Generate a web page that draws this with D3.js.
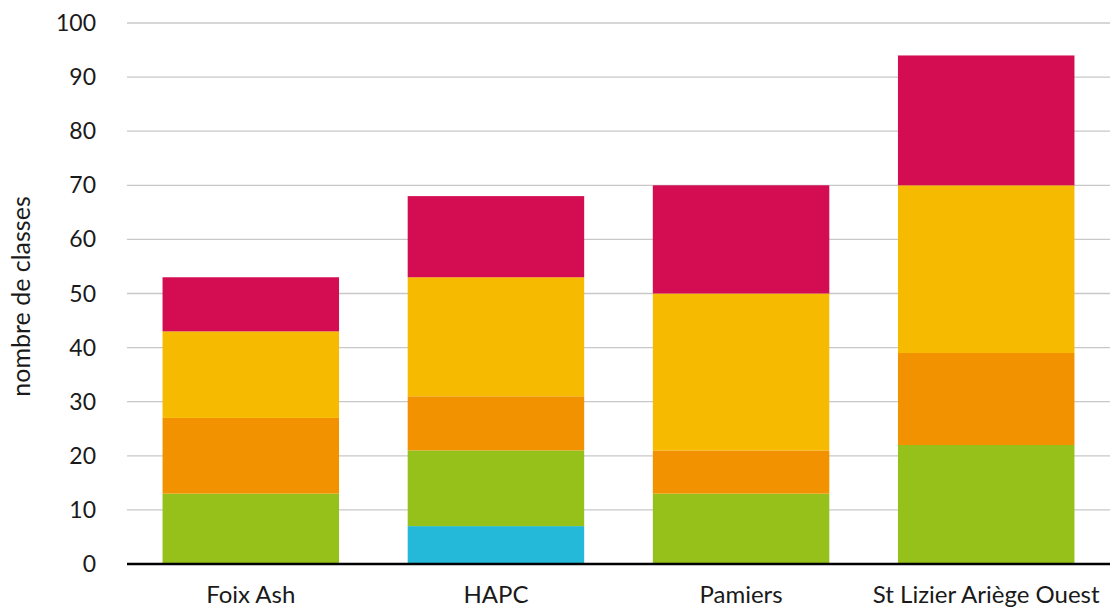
<!DOCTYPE html>
<html>
<head>
<meta charset="utf-8">
<script src="https://cdn.jsdelivr.net/npm/d3@7"></script>
<style>
  body { margin: 0; background: #fff; }
  text { font-family: "Source Sans Pro", Lato, "Open Sans", sans-serif; fill: #1a1a1a; }
</style>
</head>
<body>
<div id="chart"></div>
<script>
const categories = ["Foix Ash", "HAPC", "Pamiers", "St Lizier Ariège Ouest"];
const seriesKeys = ["s1", "s2", "s3", "s4", "s5"];
const s1 = [0, 7, 0, 0];
const s2 = [13, 14, 13, 22];
const s3 = [14, 10, 8, 17];
const s4 = [16, 22, 29, 31];
const s5 = [10, 15, 20, 24];
const colors = ["#25b9d9", "#95c11a", "#f39200", "#f6ba00", "#d40c52"];
const yTicks = [0, 10, 20, 30, 40, 50, 60, 70, 80, 90, 100];

const rows = categories.map((c, i) => ({
  cat: c, s1: s1[i], s2: s2[i], s3: s3[i], s4: s4[i], s5: s5[i]
}));

const W = 1110, H = 609;
const margin = { top: 23, right: 0, bottom: 45, left: 127 };
const width = W - margin.left - margin.right,
      height = H - margin.top - margin.bottom;

const svg = d3.select("#chart").append("svg")
  .attr("width", W).attr("height", H);
const g = svg.append("g")
  .attr("transform", "translate(" + margin.left + "," + margin.top + ")");

const x = d3.scaleBand().domain(categories).range([0, width]).paddingInner(0.28).paddingOuter(0.145);
const y = d3.scaleLinear().domain([0, 100]).range([height, 0]);

// gridlines
g.selectAll("line.grid").data(yTicks.slice(1)).enter().append("line")
  .attr("class", "grid")
  .attr("x1", 0).attr("x2", width)
  .attr("y1", d => y(d)).attr("y2", d => y(d))
  .style("stroke", "#c8c8c8").style("stroke-width", 1.3);

// y labels
g.selectAll("text.ytick").data(yTicks).enter().append("text")
  .attr("class", "ytick")
  .attr("x", -31).attr("y", d => y(d))
  .attr("dy", "0.35em")
  .attr("text-anchor", "end")
  .style("font-size", "23px")
  .text(d => d);

const stack = d3.stack().keys(seriesKeys)(rows);

g.selectAll("g.layer").data(stack).enter().append("g")
  .attr("class", "layer")
  .style("fill", (d, i) => colors[i])
  .selectAll("rect").data(d => d).enter().append("rect")
  .attr("x", d => x(d.data.cat))
  .attr("width", x.bandwidth())
  .attr("y", d => y(d[1]))
  .attr("height", d => y(d[0]) - y(d[1]));

// baseline
g.append("line")
  .attr("x1", 0).attr("x2", width)
  .attr("y1", y(0)).attr("y2", y(0))
  .style("stroke", "#000").style("stroke-width", 2.5);

// x labels
g.selectAll("text.xlab").data(categories).enter().append("text")
  .attr("class", "xlab")
  .attr("x", d => x(d) + x.bandwidth() / 2)
  .attr("y", height + 39)
  .attr("text-anchor", "middle")
  .style("font-size", "24px")
  .text(d => d);

// y axis title
svg.append("text")
  .attr("transform", "translate(30," + (margin.top + height / 2 + 3) + ") rotate(-90)")
  .attr("text-anchor", "middle")
  .style("font-size", "25px")
  .text("nombre de classes");
</script>
</body>
</html>
